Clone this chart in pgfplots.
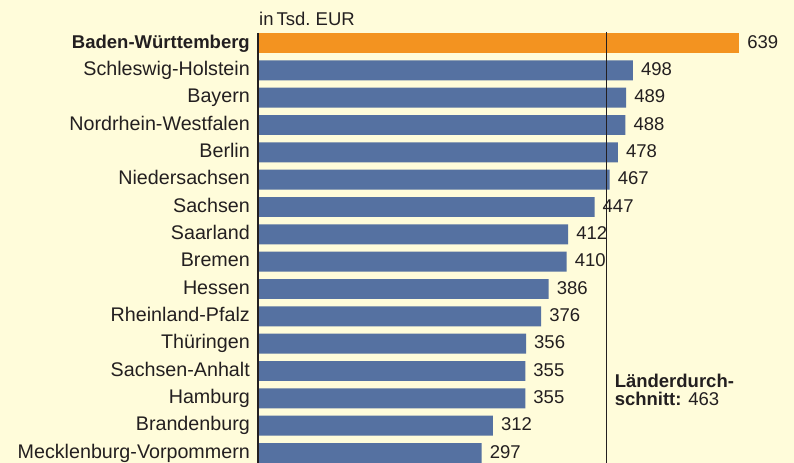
\documentclass[border=0pt]{standalone}
\usepackage{pgfplots}
\pgfplotsset{compat=1.18}
\usepackage{fontspec}
\setmainfont{Liberation Sans}
\definecolor{bg}{HTML}{FFFCDA}
\definecolor{bwor}{HTML}{F39320}
\definecolor{barblue}{HTML}{5571A1}
\definecolor{txt}{HTML}{231F20}
\begin{document}
\begin{tikzpicture}[font=\fontsize{18.5bp}{22bp}\selectfont, text=txt]
\fill[bg] (0,0) rectangle (794bp,463bp);
\useasboundingbox (0,0) rectangle (794bp,463bp);
\begin{axis}[
  at={(258bp,0bp)}, anchor=south west,
  scale only axis, width=536bp, height=430bp,
  xmin=0, xmax=712,
  ymin=-0.366, ymax=15.366, y dir=reverse,
  axis line style={draw=none},
  xtick=\empty,
  ytick={0,...,15},
  yticklabels={{\fontsize{18.5bp}{22bp}\selectfont\textbf{Baden-Württemberg}},Schleswig-Holstein,Bayern,Nordrhein-Westfalen,Berlin,Niedersachsen,Sachsen,Saarland,Bremen,Hessen,Rheinland-Pfalz,Thüringen,Sachsen-Anhalt,Hamburg,Brandenburg,Mecklenburg-Vorpommern},
  major tick length=0pt,
  yticklabel style={anchor=base east, inner sep=0pt, xshift=-8bp, yshift=-5.3bp, text=txt, font=\fontsize{19.7bp}{22bp}\selectfont},
  xbar, bar width=0.73, bar shift=0pt,
  /pgf/number format/assume math mode=true,
  point meta=x,
  nodes near coords={\pgfmathprintnumber[fixed,precision=0]{\pgfplotspointmeta}},
  nodes near coords style={anchor=base west, inner sep=0pt, xshift=8bp, yshift=-5bp, text=txt},
  clip=false,
]
\addplot[draw=none, fill=bwor] coordinates {(639,0)};
\addplot[draw=none, fill=barblue] coordinates {
(498,1) (489,2) (488,3) (478,4) (467,5) (447,6) (412,7) (410,8)
(386,9) (376,10) (356,11) (355,12) (355,13) (312,14) (297,15)};
\draw[txt, line width=1.3bp] (axis cs:0,-0.37) -- (axis cs:0,15.366);
\draw[txt, line width=1.3bp] (axis cs:463,-0.41) -- (axis cs:463,15.366);
\node[anchor=base west, inner sep=0pt, font=\fontsize{18.5bp}{20bp}\selectfont] at ([yshift=8bp,xshift=1bp]rel axis cs:0,1) {in\,Tsd.\ EUR};
\node[anchor=base west, inner sep=0pt] at ([xshift=8bp]axis cs:463,12.62) {\textbf{Länderdurch-}};
\node[anchor=base west, inner sep=0pt] at ([xshift=8bp]axis cs:463,13.25) {\textbf{schnitt:} 463};
\end{axis}
\end{tikzpicture}
\end{document}
